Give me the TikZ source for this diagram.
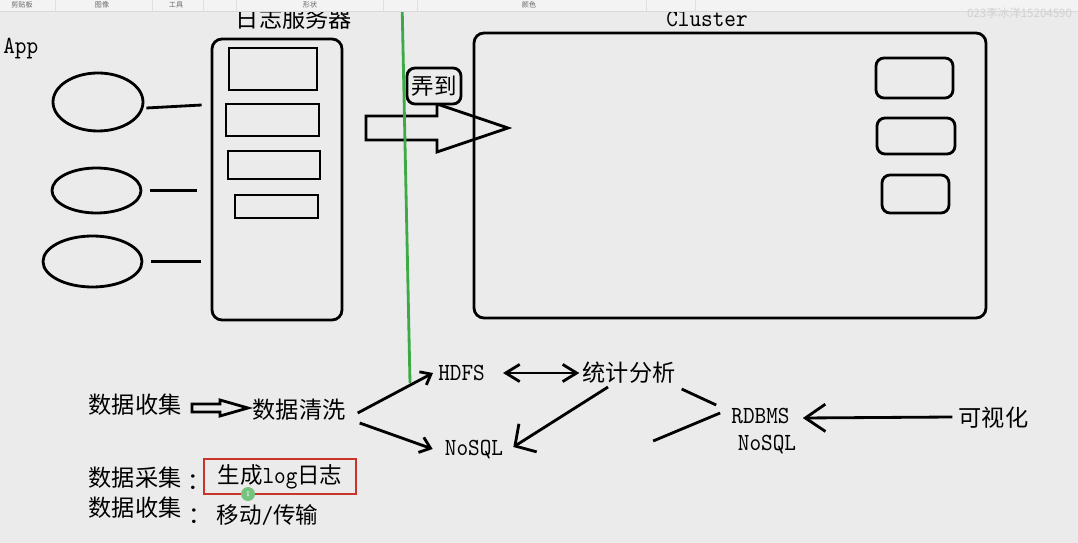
\documentclass[tikz,border=0pt]{standalone}
\usepackage{fontspec}
\newfontfamily\cjk{Noto Sans CJK SC}
\newfontfamily\lat{lmmono10-regular}[Extension=.otf, FakeStretch=0.9]
\usetikzlibrary{arrows.meta,calc,shapes.geometric}
\definecolor{paper}{HTML}{EBEBEB}
\definecolor{bar}{HTML}{F3F3F3}
\definecolor{grass}{RGB}{60,170,70}
\definecolor{brick}{RGB}{200,52,42}
\begin{document}
\begin{tikzpicture}[x=0.025cm,y=-0.025cm,
  pen/.style={line width=2pt},
  han/.style={font=\cjk\fontsize{16.5}{18}\selectfont, inner sep=0pt},
  lat/.style={font=\lat\fontsize{17.5}{18}\selectfont, inner sep=0pt},
  box/.style 2 args={draw, pen, inner sep=0pt, minimum width=#1*0.025cm, minimum height=#2*0.025cm},
  blob/.style 2 args={ellipse, box={#1}{#2}},
  barb/.style 2 args={-{Straight Barb[length=#1,width=#2]}}]
\fill[paper] (0,0) rectangle (1078,543);
\useasboundingbox (0,0) rectangle (1078,543);

% log server and apps
\node[lat, anchor=west] (app) at (3,49) {App};
\node[han] (logtitle) at (294,19) {日志服务器};
\node[box={130}{281}, rounded corners=0.25cm] (srv) at (277,179.5) {};
\node[box={88}{42}] (s1) at (273,69) {};
\node[box={93}{32}] (s2) at (272.5,120) {};
\node[box={92}{28}] (s3) at (274,165) {};
\node[box={83}{23}] (s4) at (276.5,206.5) {};
\node[blob={90}{58}] (app1) at (98,102) {};
\node[blob={89}{45}] (app2) at (96.5,190.5) {};
\node[blob={99}{51}] (app3) at (92.5,261.5) {};
\draw[pen] ($(app1.east)+(2,6)$) -- ($(app1.east -| srv.west)+(-9,3)$);
\draw[pen, shorten <=0.18cm, shorten >=0.33cm] (app2.east) -- (app2.east -| srv.west);
\draw[pen, shorten <=0.2cm, shorten >=0.25cm] (app3.east) -- (app3.east -| srv.west);

% cluster
\node[lat] (clutitle) at (707,19) {Cluster};
\node[box={512}{285}, rounded corners=0.25cm] (clu) at (730,175.5) {};
\node[box={77}{40}, rounded corners=0.2cm] (c1) at (914.5,78) {};
\node[box={78}{36}, rounded corners=0.2cm] (c2) at (916,136) {};
\node[box={67}{38}, rounded corners=0.2cm] (c3) at (915.5,194) {};

\draw[pen, line join=miter] (366,116) -- (437,116) -- (437,104) -- (508,128)
  -- (437,152) -- (437,140) -- (366,140) -- cycle;
\node[han, draw, pen, fill=paper, rounded corners=0.2cm, font=\cjk\fontsize{16}{18}\selectfont,
  minimum width=54*0.025cm, minimum height=36*0.025cm] (fetch) at (434,86) {弄到};

% flow
\node[han] (collect) at (135,405) {数据收集};
\draw[pen, line join=miter] (192,404) -- (220,404) -- (220,400) -- (248,408)
  -- (220,416) -- (220,412) -- (192,412) -- cycle;
\node[han] (clean) at (299,410) {数据清洗};
\node[lat] (hdfs) at (461.5,373) {HDFS};
\node[lat] (nosqlA) at (474,450) {NoSQL};
\node[han] (stat) at (629,373) {统计分析};
\node[lat] (rdbms) at (760.5,416) {RDBMS};
\node[lat] (nosqlB) at (767,445) {NoSQL};
\node[han] (vis) at (993.5,418) {可视化};

\draw[pen, barb={0.23cm}{0.37cm}] ($(clean.east)+(12,3)$) -- ($(hdfs.west)+(-5,0)$);
\draw[pen, barb={0.25cm}{0.4cm}] ($(clean.south east)+(14,2)$) -- ($(nosqlA.west)+(-12,-1)$);
\draw[pen, {Straight Barb[length=0.35cm,width=0.43cm]}-{Straight Barb[length=0.35cm,width=0.43cm]}]
  ($(hdfs.east)+(18,0)$) -- ($(stat.west)+(-3,0)$);
\draw[pen, barb={0.38cm}{0.83cm}] ($(stat.south)+(-21,3)$) -- ($(nosqlA.east)+(10,-3)$);
\draw[pen] ($(stat.south east)+(6,5)$) -- ($(rdbms.west)+(-15,-11)$);
\draw[pen] ($(rdbms.west)+(-11,-3)$) -- ++(-67,28);
\draw[pen, barb={0.5cm}{0.68cm}] ($(vis.west)+(-6,-1)$) -- ($(rdbms.east)+(13,2)$);

% notes
\node[han] (gather) at (135,478) {数据采集};
\node[han, anchor=west] (colonA) at (187,482) {：};
\node[draw=brick, line width=2pt, inner sep=0pt, font=\fontsize{16}{18}\selectfont,
  minimum width=152*0.025cm, minimum height=35*0.025cm] (logbox) at (280,476.5)
  {{\cjk 生成}{\lat\fontsize{17.5}{18}\selectfont log}{\cjk 日志}};
\node[han] (collect2) at (135,508) {数据收集};
\node[han, anchor=west] (colonB) at (188,516) {：};
\node[inner sep=0pt, font=\fontsize{16}{18}\selectfont] (move) at (267.5,515)
  {{\cjk 移动}{\lat\fontsize{17.5}{18}\selectfont /}{\cjk 传输}};
\node[circle, fill=grass!70!white, minimum size=14*0.025cm, inner sep=0pt,
  font=\fontsize{5}{5}\selectfont, text=white] (cursor) at (248,494) {I};

\draw[grass, line width=2pt] (402,0) -- (410,383);

% toolbar
\fill[bar] (0,0) rectangle (1078,11);
\draw[black!15, line width=0.5pt] (0,11.5) -- (1078,11.5);
\foreach \x in {55,152,203,236,383,417,646,695}
  \draw[black!12, line width=0.4pt] (\x,0) -- (\x,11);
\foreach \x/\t in {22/剪贴板,102/图像,176/工具,310/形状,529/颜色}
  \node[font=\cjk\fontsize{5}{5}\selectfont, text=black!60] (tool\x) at (\x,5) {\t};
\node[font=\cjk\fontsize{8.2}{9}\selectfont, text=black!18, anchor=east] (mark) at (1077,13) {023李冰洋15204590};
\end{tikzpicture}
\end{document}
